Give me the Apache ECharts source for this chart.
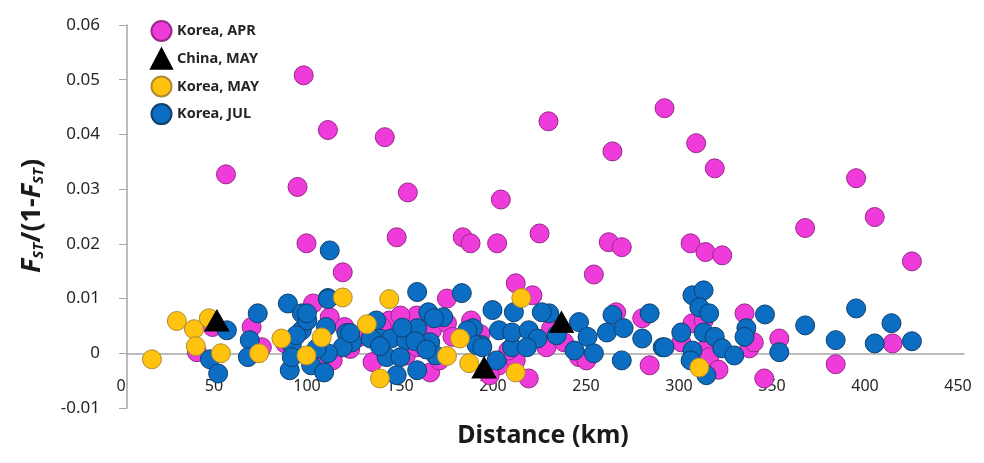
<!DOCTYPE html>
<html>
<head>
<meta charset="utf-8">
<script src="https://cdn.jsdelivr.net/npm/echarts@6/dist/echarts.min.js"></script>
<style>
html,body{margin:0;padding:0;background:#fff;}
#c{width:984px;height:463px;}
</style>
</head>
<body>
<div id="c"></div>
<script>
// ---- data: [distance km, FST/(1-FST)] ----
const seriesNames = ['Korea, APR', 'China, MAY', 'Korea, MAY', 'Korea, JUL'];
const xTicks = [0, 50, 100, 150, 200, 250, 300, 350, 400, 450];
const yTicks = [-0.01, 0, 0.01, 0.02, 0.03, 0.04, 0.05, 0.06];

const koreaApr = [
  [53.2,0.0327],[95,0.0508],[91.7,0.0304],[108,0.0408],[96.5,0.0201],[116,0.0148],[138.6,0.0395],
  [151,0.0294],[145,0.0212],[180.5,0.0212],[184.7,0.0201],[199,0.0201],[201,0.0281],[221.8,0.0219],
  [226.6,0.0424],[261,0.0369],[259,0.0203],[266,0.0194],[251,0.0144],[289,0.0448],[306,0.0384],
  [316,0.0338],[303,0.0201],[311,0.0185],[320,0.0179],[364.6,0.0229],[392,0.0320],[402,0.0249],
  [422,0.0168],[209,0.0128],[218,0.0106],[172,0.0100],
  [67,0.0048],[72.5,0.0011],[46,0.0048],[37.6,0.0002],[100,0.0091],[109,0.0066],[110.6,-0.0013],
  [117,0.0048],[85,0.0018],[132,-0.0016],[155.7,0.0069],[164,0.0042],[150,-0.0004],[163,-0.0035],
  [141,0.0060],[156,0.0011],[172,0.0055],[216,-0.0046],[225.5,0.0011],[243,-0.0007],[247,-0.0013],
  [281,-0.0022],[263,0.0075],[277,0.0064],[200,-0.0022],[209,-0.0013],[195,-0.0040],
  [332,0.0073],[304,0.0055],[298,0.0020],[311.5,0.0009],[313,-0.0007],[334.6,0.0009],[350.7,0.0027],
  [342.6,-0.0046],[381,-0.0020],[411.6,0.0018],
  [147,0.0069],[137,0.0048],[159,0.0022],[168,-0.0013],[175,0.0030],[185,0.0060],[190,0.0035],
  [205,0.0005],[228,0.0045],[235,0.0020],[310,0.0060],[318,-0.0030],[337,0.0020],[120,0.0008],
  [104,-0.0010],[125,0.0030]
];
const chinaMay = [[48.3,0.0060],[192,-0.0026],[233.6,0.0057]];
const koreaMay = [
  [13.4,-0.0011],[26.8,0.0059],[36,0.0044],[37,0.0013],[44,0.0064],[50.5,0.0000],[71,0.0000],
  [83,0.0027],[96.5,-0.0004],[104.7,0.0029],[116,0.0102],[129,0.0053],[136,-0.0046],[141,0.0099],
  [172,-0.0005],[179,0.0027],[184,-0.0018],[209,-0.0035],[212,0.0101],[307.7,-0.0026]
];
const koreaJul = [
  [53.7,0.0042],[44.6,-0.0011],[49,-0.0037],[70.3,0.0073],[66,0.0024],[65,-0.0007],[86.5,0.0091],
  [88.6,0.0015],[87.5,-0.0031],[94,0.0073],[94,0.0042],
  [109,0.0188],[108,0.0101],[97,0.0060],[107,0.0048],[118,0.0037],[121,0.0020],[116,0.0011],
  [88.6,-0.0007],[99,-0.0022],[106,-0.0035],[108,0.0000],[91,0.0033],[102,0.0009],
  [108,0.0099],[96.7,0.0073],[120,0.0037],[134,0.0060],[136,0.0027],[139.6,-0.0007],[145,-0.0040],
  [142,0.0027],[150,0.0024],[156,0.0112],[156,-0.0031],[156,0.0046],[162,0.0075],[163,0.0020],
  [170,0.0066],[180,0.0110],[166,-0.0004],[186,0.0046],[190.6,0.0015],
  [165,0.0064],[148,0.0047],[131,0.0027],[147,-0.0007],[136,0.0013],[155,0.0022],[161,0.0007],
  [183,0.0042],[188,0.0015],
  [196.5,0.0079],[208,0.0075],[200,0.0042],[191,0.0011],[198.7,-0.0013],[207,0.0011],[207,0.0038],
  [216,0.0042],[220.7,0.0027],[227,0.0073],[231,0.0033],[223,0.0075],[215,0.0011],[243,0.0057],
  [247.6,0.0030],[240.6,0.0005],[251,0.0000],[261,0.0070],[258,0.0038],[267,0.0046],[281,0.0073],
  [277,0.0027],[266,-0.0013],[288,0.0011],
  [289,0.0011],[298,0.0038],[304,0.0106],[310,0.0115],[307.7,0.0084],[313,0.0073],[310,0.0038],
  [316,0.0030],[320,0.0009],[326.5,-0.0004],[304,0.0005],[303,-0.0013],[311.5,-0.0040],[333,0.0046],
  [332,0.0030],[343,0.0071],[350.7,0.0002],[364.6,0.0051],[381,0.0024],
  [392,0.0082],[411,0.0055],[402,0.0018],[422,0.0022]
];

const FONT = '"Noto Sans", "Open Sans", sans-serif';
const chart = echarts.init(document.getElementById('c'), null, {renderer: 'canvas'});
const axisGray = '#A6A6A6';

function fmtY(v) {
  const r = Math.round(v * 100) / 100;
  return r === 0 ? '0' : r.toFixed(2);
}

chart.setOption({
  animation: false,
  backgroundColor: '#ffffff',
  grid: {left: 127, right: 20, top: 25, bottom: 55, containLabel: false},
  legend: {
    orient: 'vertical', left: 150, top: 20, padding: 0,
    itemWidth: 21, itemHeight: 20, itemGap: 5.7,
    data: seriesNames,
    textStyle: {fontFamily: FONT, fontWeight: 'bold', fontSize: 14.5, color: '#262626'}
  },
  xAxis: {
    type: 'value', min: xTicks[0], max: xTicks[xTicks.length - 1], interval: 50,
    axisLine: {onZero: true, lineStyle: {color: axisGray, width: 1.5}},
    axisTick: {show: false},
    splitLine: {show: false},
    axisLabel: {margin: -30, fontFamily: FONT, fontSize: 16, color: '#262626', padding: [0, 12, 0, 0]}
  },
  yAxis: {
    type: 'value', min: yTicks[0], max: yTicks[yTicks.length - 1], interval: 0.01,
    axisLine: {show: true, onZero: false, lineStyle: {color: axisGray, width: 1.5}},
    axisTick: {show: true, inside: false, length: 8, lineStyle: {color: axisGray}},
    splitLine: {show: false},
    axisLabel: {margin: 27, fontFamily: FONT, fontSize: 17, color: '#262626', formatter: fmtY}
  },
  graphic: [
    {
      type: 'text', x: 32, y: 216, rotation: Math.PI / 2,
      style: {
        text: '{f|F}{s|ST}{n|/(1-}{f|F}{s|ST}{n|)}',
        textAlign: 'center', textVerticalAlign: 'middle',
        rich: {
          f: {fontFamily: FONT, fontSize: 27, fontWeight: 'bold', fontStyle: 'italic', fill: '#1a1a1a'},
          s: {fontFamily: FONT, fontSize: 15, fontWeight: 'bold', fontStyle: 'italic', fill: '#1a1a1a', padding: [14, 0, 0, 0]},
          n: {fontFamily: FONT, fontSize: 27, fontWeight: 'bold', fill: '#1a1a1a'}
        }
      }
    },
    {
      type: 'text', x: 543, y: 436,
      style: {
        text: 'Distance (km)', textAlign: 'center', textVerticalAlign: 'middle',
        fontFamily: FONT, fontSize: 25, fontWeight: 'bold', fill: '#1a1a1a'
      }
    }
  ],
  series: [
    {
      name: seriesNames[0], type: 'scatter', data: koreaApr, symbol: 'circle', symbolSize: 19, z: 2,
      itemStyle: {color: '#EE3BD9', borderColor: '#97298B', borderWidth: 1, opacity: 1}
    },
    {
      name: seriesNames[1], type: 'scatter', data: chinaMay, symbol: 'triangle', symbolSize: [24, 21], z: 6,
      itemStyle: {color: '#000000', borderColor: '#000000', borderWidth: 1, opacity: 1}
    },
    {
      name: seriesNames[2], type: 'scatter', data: koreaMay, symbol: 'circle', symbolSize: 19, z: 5,
      itemStyle: {color: '#FFC20E', borderColor: '#B08A35', borderWidth: 1, opacity: 1}
    },
    {
      name: seriesNames[3], type: 'scatter', data: koreaJul, symbol: 'circle', symbolSize: 19, z: 4,
      itemStyle: {color: '#0B6EC2', borderColor: '#0F3F6E', borderWidth: 1, opacity: 1}
    }
  ]
});
</script>
</body>
</html>
